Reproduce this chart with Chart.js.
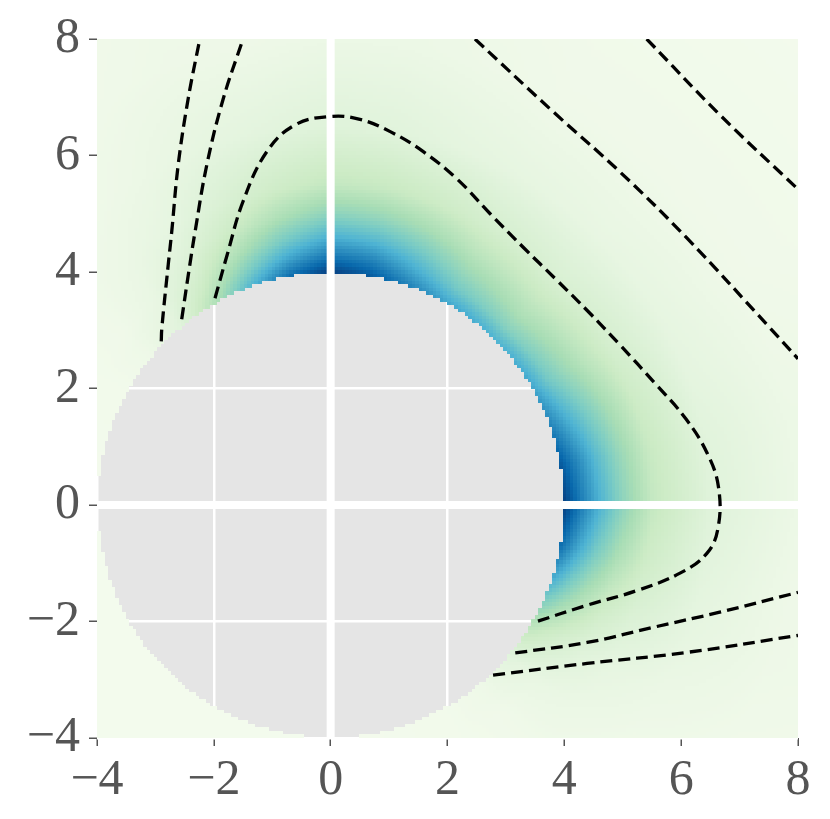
<!DOCTYPE html>
<html>
<head>
<meta charset="utf-8">
<script src="https://cdn.jsdelivr.net/npm/chart.js@4.4.1/dist/chart.umd.min.js"></script>
<style>
  html, body { margin: 0; background: #fff; }
</style>
</head>
<body>
<canvas id="chart" width="830" height="819"></canvas>
<script>
// -------------------- Data --------------------
const xTicks = [-4, -2, 0, 2, 4, 6, 8];
const yTicks = [-4, -2, 0, 2, 4, 6, 8];
const diskRadius = 4;

// dashed contours
const contourA = [{x:-2.90,y:2.81},{x:-2.89,y:3.04},{x:-2.78,y:4.13},{x:-2.72,y:4.70},{x:-2.61,y:5.84},{x:-2.44,y:6.97},{x:-2.24,y:8.0}];
const contourB = [{x:-2.55,y:3.19},{x:-2.41,y:4.13},{x:-2.32,y:4.70},{x:-2.12,y:5.84},{x:-1.84,y:6.97},{x:-1.50,y:8.0}];
const contourC = [{x:-1.98,y:3.55},{x:-1.77,y:4.30},{x:-1.50,y:5.21},{x:-1.09,y:6.07},{x:-0.60,y:6.53},{x:0.0,y:6.67},
  {x:0.50,y:6.62},{x:1.02,y:6.41},{x:1.58,y:6.07},{x:2.16,y:5.60},{x:2.73,y:5.0},{x:3.30,y:4.42},{x:3.85,y:3.88},
  {x:4.40,y:3.33},{x:4.95,y:2.75},{x:5.56,y:2.08},{x:6.08,y:1.48},{x:6.45,y:0.88},{x:6.64,y:0.30},{x:6.63,y:-0.40},
  {x:6.44,y:-0.83},{x:5.98,y:-1.17},{x:5.24,y:-1.47},{x:4.39,y:-1.72},{x:3.50,y:-2.01}];
const contourD = [{x:2.47,y:8.0},{x:3.81,y:6.75},{x:4.95,y:5.72},{x:6.10,y:4.58},{x:7.52,y:3.04},{x:8.0,y:2.51}];
const contourE = [{x:5.41,y:8.0},{x:6.66,y:6.70},{x:8.0,y:5.42}];
const contourF = [{x:3.16,y:-2.54},{x:4.39,y:-2.36},{x:5.52,y:-2.10},{x:6.66,y:-1.84},{x:8.0,y:-1.50}];
const contourG = [{x:2.78,y:-2.92},{x:4.39,y:-2.72},{x:6.10,y:-2.53},{x:8.0,y:-2.24}];

// heat level (0..1) by angle round the disk (deg) and distance from its edge
const heatAngles = [-180, -90, -60, -50, -40, -30, -20, -10, 0, 10, 20, 30, 45, 60, 70, 80, 90, 100, 110, 120, 130, 140, 150, 180];
const heatDepths = [0, 0.3, 0.6, 1, 1.5, 2.5, 4, 8];
const heatLevels = [
  [0.02,0.02,0.02,0.02,0.02,0.02,0.02,0.02],
  [0.02,0.02,0.02,0.02,0.02,0.02,0.02,0.02],
  [0.03,0.03,0.03,0.03,0.03,0.03,0.02,0.02],
  [0.05,0.05,0.04,0.04,0.04,0.03,0.02,0.02],
  [0.12,0.10,0.08,0.07,0.06,0.04,0.03,0.02],
  [0.33,0.25,0.19,0.13,0.09,0.06,0.04,0.02],
  [0.60,0.46,0.35,0.24,0.16,0.09,0.05,0.03],
  [0.85,0.66,0.51,0.36,0.23,0.11,0.05,0.03],
  [1.00,0.80,0.63,0.45,0.28,0.13,0.06,0.03],
  [0.92,0.76,0.60,0.43,0.27,0.12,0.06,0.03],
  [0.78,0.64,0.52,0.38,0.24,0.10,0.05,0.02],
  [0.67,0.52,0.42,0.31,0.20,0.09,0.04,0.02],
  [0.62,0.46,0.36,0.27,0.17,0.08,0.04,0.02],
  [0.67,0.52,0.42,0.31,0.20,0.09,0.04,0.02],
  [0.78,0.64,0.52,0.38,0.24,0.10,0.05,0.02],
  [0.92,0.76,0.60,0.43,0.27,0.12,0.06,0.03],
  [1.00,0.80,0.63,0.45,0.28,0.13,0.06,0.03],
  [0.85,0.66,0.51,0.36,0.23,0.11,0.05,0.03],
  [0.60,0.46,0.35,0.24,0.16,0.09,0.05,0.03],
  [0.33,0.25,0.19,0.13,0.09,0.06,0.04,0.02],
  [0.12,0.10,0.08,0.07,0.06,0.04,0.03,0.02],
  [0.05,0.05,0.04,0.04,0.04,0.03,0.02,0.02],
  [0.03,0.03,0.03,0.03,0.03,0.03,0.02,0.02],
  [0.02,0.02,0.02,0.02,0.02,0.02,0.02,0.02]
];

// -------------------- Colours --------------------
const GNBU = ['#f7fcf0','#e0f3db','#ccebc5','#a8ddb5','#7bccc4','#4eb3d3','#2b8cbe','#0868ac','#084081']
  .map(h => [1, 3, 5].map(i => parseInt(h.substr(i, 2), 16)));

function gnbu(v) {
  v = Math.max(0, Math.min(1, v)) * (GNBU.length - 1);
  const i = Math.min(Math.floor(v), GNBU.length - 2), t = v - i;
  const c = GNBU[i].map((a, k) => Math.round(a + (GNBU[i + 1][k] - a) * t));
  return `rgb(${c[0]},${c[1]},${c[2]})`;
}

function findSeg(arr, v) {
  let i = 0;
  while (i < arr.length - 2 && v > arr[i + 1]) i++;
  const t = Math.max(0, Math.min(1, (v - arr[i]) / (arr[i + 1] - arr[i])));
  return [i, t];
}

function heatAt(angle, depth) {
  const [i, ti] = findSeg(heatAngles, angle);
  const [j, tj] = findSeg(heatDepths, depth);
  const a = heatLevels[i][j] * (1 - tj) + heatLevels[i][j + 1] * tj;
  const b = heatLevels[i + 1][j] * (1 - tj) + heatLevels[i + 1][j + 1] * tj;
  return a * (1 - ti) + b * ti;
}

// -------------------- Plugins --------------------
const heatPlugin = {
  id: 'heat',
  beforeDraw(chart) {
    const {ctx, chartArea: a} = chart;
    ctx.save();
    ctx.fillStyle = '#ffffff';
    ctx.fillRect(0, 0, chart.width, chart.height);
    ctx.fillStyle = '#e5e5e5';
    ctx.fillRect(a.left, a.top, a.right - a.left, a.bottom - a.top);
    ctx.restore();
  },
  beforeDatasetsDraw(chart) {
    const xs = chart.scales.x, ys = chart.scales.y, ctx = chart.ctx;
    const n = 200;
    const dx = (xs.max - xs.min) / n, dy = (ys.max - ys.min) / n;
    ctx.save();
    for (let i = 0; i < n; i++) {
      const cx = xs.min + (i + 0.5) * dx;
      const px0 = Math.floor(xs.getPixelForValue(cx - dx / 2));
      const px1 = Math.ceil(xs.getPixelForValue(cx + dx / 2));
      for (let j = 0; j < n; j++) {
        const cy = ys.min + (j + 0.5) * dy;
        const r = Math.hypot(cx, cy);
        if (r < diskRadius) continue;
        const ang = Math.atan2(cy, cx) * 180 / Math.PI;
        ctx.fillStyle = gnbu(heatAt(ang, r - diskRadius));
        const py0 = Math.floor(ys.getPixelForValue(cy + dy / 2));
        const py1 = Math.ceil(ys.getPixelForValue(cy - dy / 2));
        ctx.fillRect(px0, py0, px1 - px0, py1 - py0);
      }
    }
    ctx.restore();
  }
};

// -------------------- Chart --------------------
const tickFont = { family: "'Liberation Serif', 'DejaVu Serif', serif", size: 50 };
const fmt = v => v < 0 ? '\u2212' + Math.abs(v) : String(v);

const dashed = (data) => ({
  data, showLine: true, borderColor: '#000', borderWidth: 3.3, borderDash: [12, 6],
  pointRadius: 0, tension: 0.4, fill: false
});

new Chart(document.getElementById('chart'), {
  type: 'scatter',
  data: {
    datasets: [
      dashed(contourA), dashed(contourB), dashed(contourC), dashed(contourD),
      dashed(contourE), dashed(contourF), dashed(contourG),
      { data: [{x: 0, y: yTicks[0]}, {x: 0, y: yTicks[yTicks.length - 1]}], showLine: true,
        borderColor: '#fff', borderWidth: 8, pointRadius: 0 },
      { data: [{x: xTicks[0], y: 0}, {x: xTicks[xTicks.length - 1], y: 0}], showLine: true,
        borderColor: '#fff', borderWidth: 8, pointRadius: 0 }
    ]
  },
  options: {
    responsive: false,
    devicePixelRatio: 1,
    animation: false,
    layout: { padding: { left: 0, top: 37, right: 32, bottom: 0 } },
    plugins: { legend: { display: false }, tooltip: { enabled: false } },
    scales: {
      x: {
        type: 'linear', min: xTicks[0], max: xTicks[xTicks.length - 1],
        afterBuildTicks: s => { s.ticks = xTicks.map(v => ({ value: v })); },
        afterFit: s => { s.height = 81; },
        ticks: { font: tickFont, color: '#555', padding: 5, maxRotation: 0, autoSkip: false, callback: fmt },
        grid: { color: '#fff', lineWidth: 2.5, tickColor: '#555', tickLength: 8, tickWidth: 1.5 },
        border: { display: false }
      },
      y: {
        type: 'linear', min: yTicks[0], max: yTicks[yTicks.length - 1],
        afterBuildTicks: s => { s.ticks = yTicks.map(v => ({ value: v })); },
        afterFit: s => { s.width = 97; },
        ticks: { font: tickFont, color: '#555', padding: 9, autoSkip: false, callback: fmt },
        grid: { color: '#fff', lineWidth: 2.5, tickColor: '#555', tickLength: 8, tickWidth: 1.5 },
        border: { display: false }
      }
    }
  },
  plugins: [heatPlugin]
});
</script>
</body>
</html>
